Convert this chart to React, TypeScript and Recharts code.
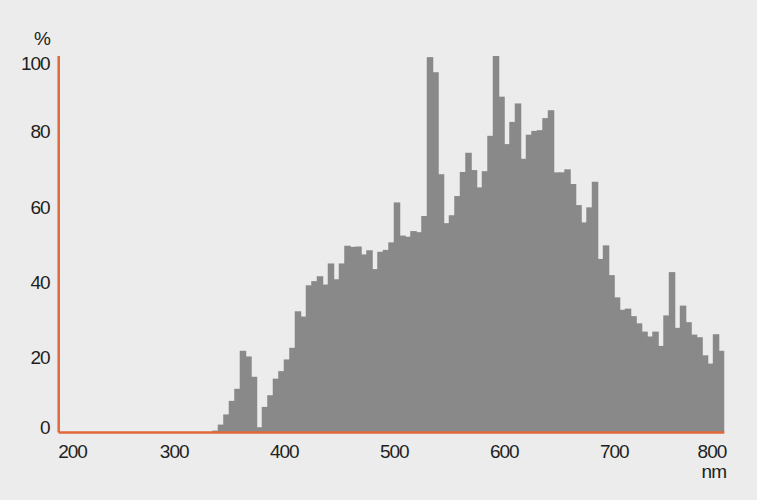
import React from "react";
import { BarChart, Bar, XAxis, YAxis, Label } from "recharts";

// Wavelength bins (start of each 5 nm bin)
const binStarts: number[] = [
  335, 340, 345, 350, 355, 360, 365, 370, 375, 380, 385, 390, 395, 400, 405, 410, 415, 420, 425, 430,
  435, 440, 445, 450, 455, 460, 465, 470, 475, 480, 485, 490, 495, 500, 505, 510, 515, 520, 525, 530,
  535, 540, 545, 550, 555, 560, 565, 570, 575, 580, 585, 590, 595, 600, 605, 610, 615, 620, 625, 630,
  635, 640, 645, 650, 655, 660, 665, 670, 675, 680, 685, 690, 695, 700, 705, 710, 715, 720, 725, 730,
  735, 740, 745, 750, 755, 760, 765, 770, 775, 780, 785, 790, 795,
];

// Relative intensity (%)
const intensity: number[] = [
  0.5, 2.1, 4.8, 8.4, 11.6, 21.7, 20.2, 14.8, 1.4, 6.8, 9.9, 14.3, 16.3, 19.4, 22.5, 32.2, 30.8, 39.1, 40.2, 41.5,
  39.3, 44.9, 40.7, 44.9, 49.6, 49.3, 49.4, 47.3, 48.4, 43.4, 48.0, 48.5, 50.5, 61.1, 52.3, 52.0, 53.5, 53.2, 57.5, 99.7,
  95.7, 68.6, 55.6, 57.7, 62.8, 69.2, 74.3, 69.7, 65.1, 69.4, 78.8, 100, 89.2, 76.6, 82.5, 87.4, 72.7, 79.1, 80.1, 80.3,
  83.5, 85.6, 69.1, 69.1, 69.9, 66.0, 60.4, 55.8, 59.8, 66.6, 46.1, 49.7, 41.8, 35.9, 32.6, 32.9, 30.9, 29.0, 26.8, 25.5,
  26.8, 23.0, 31.1, 42.6, 27.8, 33.7, 29.3, 26.0, 25.3, 20.5, 18.3, 26.1, 21.7,
];

const binWidth = 5;
const xTicks: number[] = [200, 300, 400, 500, 600, 700, 800];
const yTicks: number[] = [0, 20, 40, 60, 80, 100];
const xUnit = "nm";
const yUnit = "%";

const data = binStarts.map((s, i) => ({ wl: s + binWidth / 2, v: intensity[i] }));

const FONT = "'Liberation Sans', Arial, sans-serif";
const FS = 19;
const LS = -1;
const TEXT = "#1e1e1e";
const ORANGE = "#e0683a";
const BAR = "#898989";
const BG = "#ececec";

const XTick = (props: any) => {
  const { x, y, payload } = props;
  const v = payload.value;
  let anchor: "start" | "middle" | "end" = "middle";
  let dx = 0;
  if (v === xTicks[0]) {
    anchor = "start";
    dx = -6;
  } else if (v === xTicks[xTicks.length - 1]) {
    anchor = "end";
    dx = 2;
  }
  return (
    <text x={x + dx} y={y + 25} textAnchor={anchor} fontFamily={FONT} fontSize={FS} letterSpacing={LS} fill={TEXT}>
      {v}
    </text>
  );
};

const YTick = (props: any) => {
  const { x, y, payload } = props;
  const v = payload.value;
  let dy = 7;
  if (v === yTicks[0]) dy = 1.5;
  else if (v === yTicks[yTicks.length - 1]) dy = 14;
  return (
    <text x={x - 9} y={y + dy} textAnchor="end" fontFamily={FONT} fontSize={FS} letterSpacing={LS} fill={TEXT}>
      {v}
    </text>
  );
};

const BinShape = (p: any) => {
  const { x, y, width, height } = p;
  if (!height || height <= 0) return null;
  return <rect x={x - 0.5} y={y} width={width + 1} height={height} fill={BAR} />;
};

export default function App() {
  return (
    <div style={{ position: "absolute", left: 0, top: 0, width: 757, height: 500, background: BG }}>
      <BarChart
        width={757}
        height={500}
        data={data}
        margin={{ top: 56, right: 32.7, bottom: 0, left: 0 }}
        barCategoryGap={0}
        barGap={0}
      >
        <XAxis
          dataKey="wl"
          type="number"
          domain={[195, 800]}
          ticks={xTicks}
          interval={0}
          allowDataOverflow
          height={67.5}
          tickLine={false}
          tickSize={0}
          tickMargin={0}
          axisLine={{ stroke: ORANGE, strokeWidth: 2.5 }}
          tick={<XTick />}
        >
          <Label
            content={(p: any) => {
              const vb = p.viewBox;
              return (
                <text x={vb.x + vb.width + 1.7} y={vb.y + 45} textAnchor="end" fontFamily={FONT} fontSize={FS} letterSpacing={LS} fill={TEXT}>
                  {xUnit}
                </text>
              );
            }}
          />
        </XAxis>
        <YAxis
          type="number"
          domain={[0, 100]}
          ticks={yTicks}
          interval={0}
          width={58.7}
          tickLine={false}
          tickSize={0}
          tickMargin={0}
          axisLine={{ stroke: ORANGE, strokeWidth: 2.5 }}
          tick={<YTick />}
        >
          <Label
            content={(p: any) => {
              const vb = p.viewBox;
              return (
                <text x={50} y={vb.y - 11} textAnchor="end" fontFamily={FONT} fontSize={FS} letterSpacing={LS} fill={TEXT}>
                  {yUnit}
                </text>
              );
            }}
          />
        </YAxis>
        <Bar dataKey="v" fill={BAR} barSize={5.5} shape={<BinShape />} isAnimationActive={false} />
      </BarChart>
    </div>
  );
}
